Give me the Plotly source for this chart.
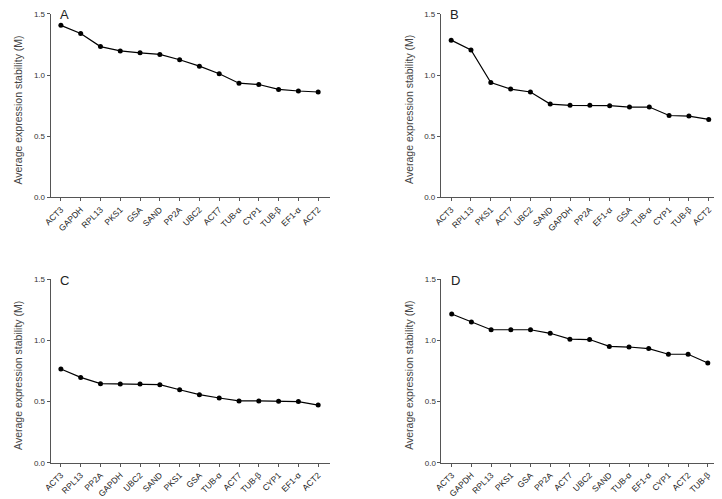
import plotly.graph_objects as go

# Panel A
genes_a = ["ACT3", "GAPDH", "RPL13", "PKS1", "GSA", "SAND", "PP2A", "UBC2", "ACT7", "TUB-α", "CYP1", "TUB-β", "EF1-α", "ACT2"]
m_a = [1.407, 1.340, 1.233, 1.198, 1.182, 1.169, 1.126, 1.073, 1.011, 0.934, 0.923, 0.883, 0.870, 0.862]
# Panel B
genes_b = ["ACT3", "RPL13", "PKS1", "ACT7", "UBC2", "SAND", "GAPDH", "PP2A", "EF1-α", "GSA", "TUB-α", "CYP1", "TUB-β", "ACT2"]
m_b = [1.286, 1.206, 0.940, 0.886, 0.862, 0.763, 0.753, 0.753, 0.750, 0.739, 0.739, 0.670, 0.665, 0.638]
# Panel C
genes_c = ["ACT3", "RPL13", "PP2A", "GAPDH", "UBC2", "SAND", "PKS1", "GSA", "TUB-α", "ACT7", "TUB-β", "CYP1", "EF1-α", "ACT2"]
m_c = [0.767, 0.698, 0.647, 0.645, 0.645, 0.639, 0.597, 0.557, 0.530, 0.506, 0.506, 0.503, 0.501, 0.472]
# Panel D
genes_d = ["ACT3", "GAPDH", "RPL13", "PKS1", "GSA", "PP2A", "ACT7", "UBC2", "SAND", "TUB-α", "EF1-α", "CYP1", "ACT2", "TUB-β"]
m_d = [1.215, 1.151, 1.087, 1.087, 1.087, 1.058, 1.010, 1.007, 0.951, 0.946, 0.933, 0.887, 0.887, 0.815]

panels = ["A", "B", "C", "D"]
y_ticks = [0.0, 0.5, 1.0, 1.5]
y_ticktext = ["0.0", "0.5", "1.0", "1.5"]
y_title = "Average expression stability (M)"

# page body has an 8px default margin; work in screen pixels and convert
OFF = 8
W, H = 722 - OFF, 499 - OFF
# screen-pixel boxes: (x0, x1, ytop, ybottom)
boxes = [(43, 326, 10, 197.3), (437.7, 721, 10, 197.3),
         (43, 326, 280.7, 468.3), (438.3, 720, 280.7, 468.3)]


def px(x):
    return (x - OFF) / W


def py(y):
    return 1 - (y - OFF) / H


fig = go.Figure()
data = [(genes_a, m_a), (genes_b, m_b), (genes_c, m_c), (genes_d, m_d)]
axis_col = "#555555"
font_fam = "Liberation Sans, Arial, sans-serif"

for i, ((g, m), box, lab) in enumerate(zip(data, boxes, panels)):
    n = "" if i == 0 else str(i + 1)
    fig.add_trace(go.Scatter(
        x=g, y=m, mode="lines+markers",
        line=dict(color="black", width=1.2),
        marker=dict(color="black", size=5),
        xaxis="x" + n, yaxis="y" + n, showlegend=False, cliponaxis=False))
    x0, x1, yt, yb = box
    fig.layout["xaxis" + n] = dict(
        domain=[px(x0), min(px(x1), 1.0)], anchor="y" + n,
        type="category", categoryorder="array", categoryarray=g,
        range=[-0.52, 13.62], showline=True, linecolor=axis_col, linewidth=1,
        ticks="outside", ticklen=3, tickcolor=axis_col, tickangle=-45,
        showgrid=False, zeroline=False,
        tickfont=dict(size=8.5, color="#222222", family=font_fam))
    fig.layout["yaxis" + n] = dict(
        domain=[py(yb), py(yt)], anchor="x" + n,
        range=[0, 1.5], tickvals=y_ticks, ticktext=y_ticktext,
        showline=True, linecolor=axis_col, linewidth=1,
        ticks="outside", ticklen=3, tickcolor=axis_col,
        showgrid=False, zeroline=False,
        tickfont=dict(size=8, color="#333333", family=font_fam))
    fig.add_annotation(x=px(x0 + 14), y=py(yt + 1), xref="paper", yref="paper",
                       text=lab, showarrow=False, xanchor="center", yanchor="middle",
                       font=dict(size=13, color="#222222", family=font_fam))
    fig.add_annotation(x=px(x0 - 33), y=py((yt + yb) / 2 + 4), xref="paper", yref="paper",
                       text=y_title, showarrow=False, textangle=-90,
                       xanchor="center", yanchor="middle",
                       font=dict(size=10.5, color="#444444", family=font_fam))

fig.update_layout(width=W, height=H, margin=dict(l=0, r=0, t=0, b=0),
                  paper_bgcolor="white", plot_bgcolor="white",
                  font=dict(family=font_fam))
fig.write_html("out.html")
